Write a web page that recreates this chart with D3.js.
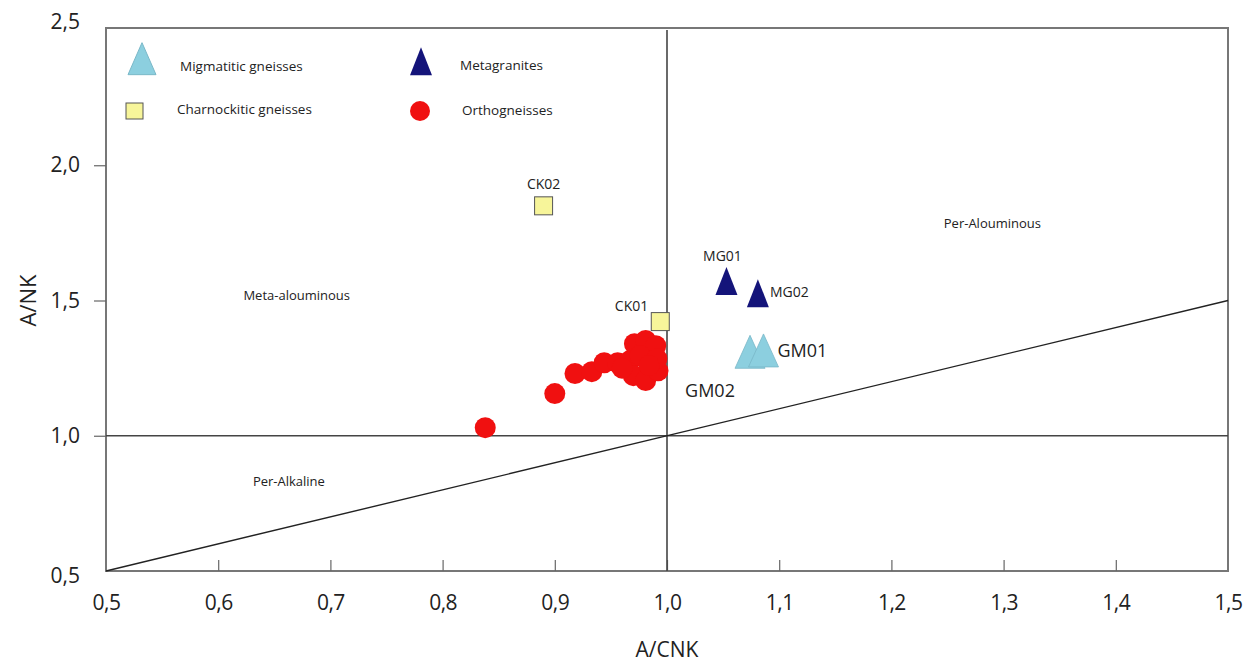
<!DOCTYPE html>
<html><head><meta charset="utf-8">
<script src="https://cdn.jsdelivr.net/npm/d3@7"></script>
<style>body{margin:0;background:#fff;} text{font-family:"Open Sans","Liberation Sans",sans-serif;fill:#222;}</style>
</head><body><svg id="c" width="1255" height="666"></svg>
<script>
const xTicks = [0.5,0.6,0.7,0.8,0.9,1.0,1.1,1.2,1.3,1.4,1.5];
const yTicks = [0.5,1.0,1.5,2.0,2.5];
const migmatitic = [{id:"GM02",x:1.074,y:1.29},{id:"GM01",x:1.086,y:1.295}];
const metagranites = [{id:"MG01",x:1.053,y:1.555},{id:"MG02",x:1.081,y:1.51}];
const charnockitic = [{id:"CK02",x:0.89,y:1.85},{id:"CK01",x:0.994,y:1.422}];
const orthoX = [0.838,0.900,0.918,0.933,0.944,0.956,0.967,0.971,0.981,0.990,0.976,0.970,0.981,0.992,0.991,0.960,0.984];
const orthoY = [1.03,1.156,1.23,1.237,1.27,1.27,1.278,1.34,1.352,1.333,1.296,1.222,1.204,1.24,1.285,1.25,1.26];
const regions = [{t:"Meta-alouminous",x:0.67,y:1.52},{t:"Per-Alouminous",x:1.29,y:1.785},{t:"Per-Alkaline",x:0.663,y:0.83}];
const fmt = d => d.toFixed(1).replace(".", ",");

const svg = d3.select("#c");
const x = d3.scaleLinear().domain([0.5,1.5]).range([106,1228]);
const y = d3.scaleLinear().domain([0.5,2.5]).range([571,30]);

// frame
svg.append("rect").attr("x",x(0.5)).attr("y",y(2.5)-2).attr("width",x(1.5)-x(0.5)).attr("height",y(0.5)-y(2.5)+2)
  .attr("fill","none").attr("stroke","#777").attr("stroke-width",2);

// axes
const xa = svg.append("g").attr("transform",`translate(0,${y(0.5)})`)
  .call(d3.axisBottom(x).tickValues(xTicks).tickFormat(fmt).tickSizeInner(-11).tickSizeOuter(0).tickPadding(24));
xa.select(".domain").remove();
xa.selectAll("line").attr("stroke","#666").attr("stroke-width",1.2);
xa.selectAll("text").attr("font-size",21).attr("fill","#222").attr("letter-spacing","-0.5").style("font-family","'Open Sans',sans-serif");
xa.selectAll(".tick").filter(d=>d===0.5||d===1.5).select("line").remove();

const ya = svg.append("g").attr("transform",`translate(${x(0.5)},0)`)
  .call(d3.axisLeft(y).tickValues(yTicks).tickFormat(fmt).tickSizeInner(12).tickSizeOuter(0).tickPadding(14));
ya.select(".domain").remove();
ya.selectAll("line").attr("stroke","#666").attr("stroke-width",1.2);
ya.selectAll("text").attr("font-size",21).attr("fill","#222").style("font-family","'Open Sans',sans-serif");
ya.selectAll(".tick").filter(d=>d===0.5||d===2.5).select("line").remove();
ya.selectAll(".tick").filter(d=>d===2.5).select("text").attr("dy","-0.05em");
ya.selectAll(".tick").filter(d=>d===0.5).select("text").attr("dy","0.55em");

// reference lines
svg.append("line").attr("x1",x(1)).attr("x2",x(1)).attr("y1",y(2.5)).attr("y2",y(0.5)).attr("stroke","#444").attr("stroke-width",1.6);
svg.append("line").attr("x1",x(0.5)).attr("x2",x(1.5)).attr("y1",y(1)).attr("y2",y(1)).attr("stroke","#444").attr("stroke-width",1.6);
svg.append("line").attr("x1",x(0.5)).attr("x2",x(1.5)).attr("y1",y(0.5)).attr("y2",y(1.5)).attr("stroke","#222").attr("stroke-width",1.4);

// axis titles
svg.append("text").attr("x",x(1)).attr("y",657).attr("text-anchor","middle").attr("font-size",21).text("A/CNK");
svg.append("text").attr("transform",`translate(36,${y(1.5)}) rotate(-90)`).attr("text-anchor","middle").attr("font-size",22).text("A/NK");

// region labels
regions.forEach(r=>svg.append("text").attr("x",x(r.x)).attr("y",y(r.y)).attr("text-anchor","middle").attr("dy","0.35em").attr("font-size",13).text(r.t));

const tri = (cx,cy,w,h) => `M${cx},${cy-h*2/3}L${cx+w/2},${cy+h/3}L${cx-w/2},${cy+h/3}Z`;

// orthogneisses
svg.append("g").selectAll("circle").data(orthoX).join("circle")
  .attr("cx",(d)=>x(d)).attr("cy",(d,i)=>y(orthoY[i])).attr("r",10.5).attr("fill","#f01010");

// charnockitic
svg.append("g").selectAll("rect").data(charnockitic).join("rect")
  .attr("x",d=>x(d.x)-9).attr("y",d=>y(d.y)-9).attr("width",18).attr("height",18)
  .attr("fill","#f7f59a").attr("stroke","#555").attr("stroke-width",1);

// metagranites
svg.append("g").selectAll("path").data(metagranites).join("path")
  .attr("d",d=>tri(x(d.x),y(d.y),22,28)).attr("fill","#14147a");

// migmatitic
svg.append("g").selectAll("path").data(migmatitic).join("path")
  .attr("d",d=>tri(x(d.x),y(d.y),30,33)).attr("fill","#8ccfdf").attr("stroke","#7ab8c8").attr("stroke-width",0.8);

// point labels
const lab = (t,px,py,anchor,size)=>svg.append("text").attr("x",px).attr("y",py).attr("text-anchor",anchor).attr("font-size",size).attr("dy","0.35em").text(t);
const ck02 = charnockitic[0], ck01 = charnockitic[1];
lab(ck02.id, x(ck02.x), y(ck02.y)-22, "middle", 14);
lab(ck01.id, x(ck01.x)-12, y(ck01.y)-15, "end", 14);
lab(metagranites[0].id, x(metagranites[0].x)-4, y(metagranites[0].y)-30, "middle", 14);
lab(metagranites[1].id, x(metagranites[1].x)+12, y(metagranites[1].y)-6, "start", 14);
lab(migmatitic[1].id, x(migmatitic[1].x)+14, y(migmatitic[1].y)-5, "start", 18);
lab(migmatitic[0].id, x(migmatitic[0].x)-40, y(migmatitic[0].y)+33, "middle", 18);

// legend
const lg = svg.append("g");
lg.append("path").attr("d",tri(142,64,28,32)).attr("fill","#8ccfdf").attr("stroke","#7ab8c8");
lg.append("text").attr("x",180).attr("y",66).attr("dy","0.35em").attr("font-size",13.5).text("Migmatitic gneisses");
lg.append("path").attr("d",tri(421,66,22,28)).attr("fill","#14147a");
lg.append("text").attr("x",460).attr("y",65).attr("dy","0.35em").attr("font-size",13.5).text("Metagranites");
lg.append("rect").attr("x",126).attr("y",103).attr("width",17).attr("height",16).attr("fill","#f7f59a").attr("stroke","#555");
lg.append("text").attr("x",177).attr("y",109).attr("dy","0.35em").attr("font-size",13.5).text("Charnockitic gneisses");
lg.append("circle").attr("cx",420).attr("cy",111).attr("r",10).attr("fill","#f01010");
lg.append("text").attr("x",462).attr("y",110).attr("dy","0.35em").attr("font-size",13.5).text("Orthogneisses");
</script></body></html>
